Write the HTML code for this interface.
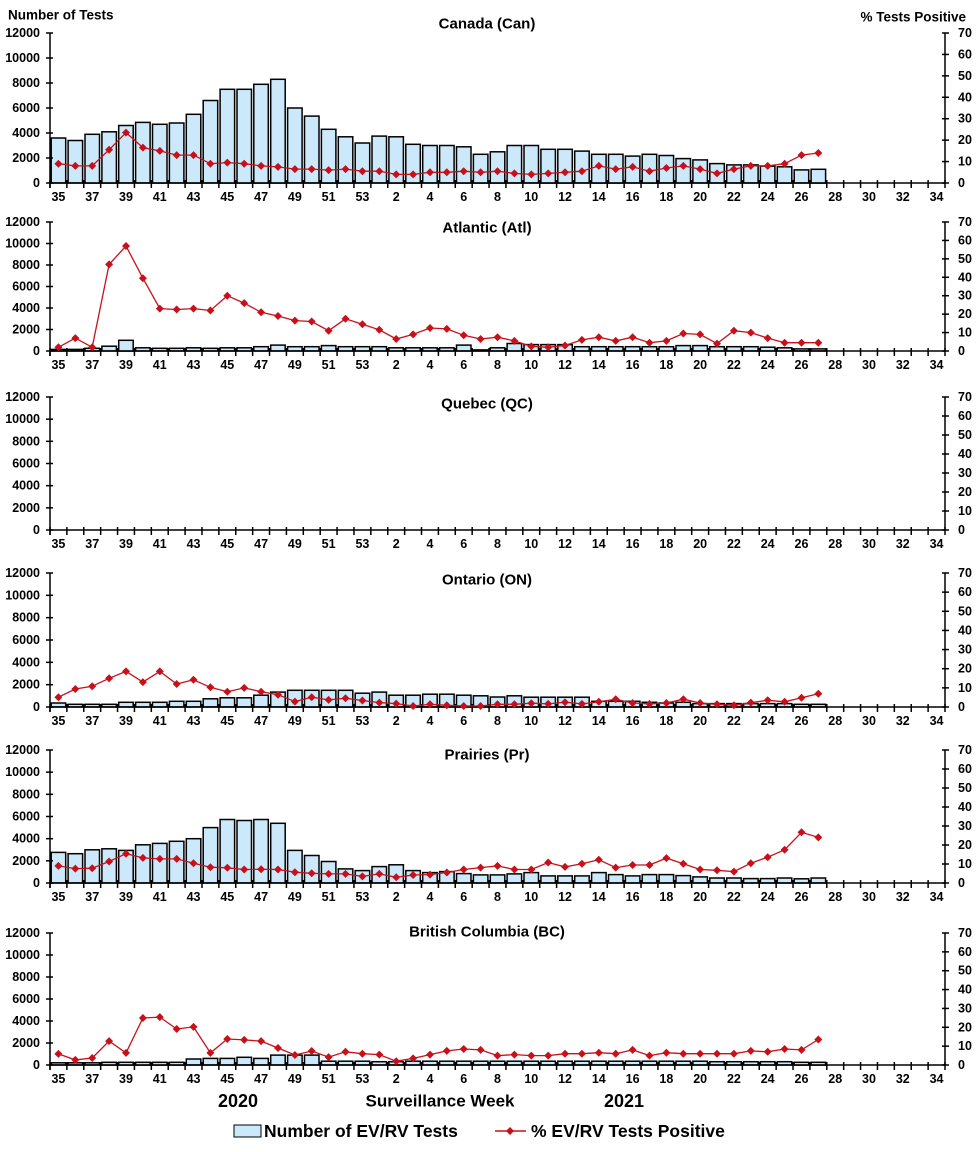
<!DOCTYPE html>
<html><head><meta charset="utf-8">
<style>
html,body{margin:0;padding:0;background:#fff;}
svg{display:block;font-family:"Liberation Sans",Arial,sans-serif;font-weight:bold;}
</style></head>
<body>
<svg id="c" width="976" height="1152" xmlns="http://www.w3.org/2000/svg"></svg>
<script>
const weeks=[];for(let w=35;w<=53;w++)weeks.push(w);for(let w=1;w<=34;w++)weeks.push(w);
const X0=50,X1=945,CW=(X1-X0)/53;
const P=[
{t:"Canada (Can)",ty:24,top:33,bot:183,
b:[3600,3400,3900,4100,4600,4850,4700,4800,5500,6600,7500,7500,7900,8300,6000,5350,4300,3700,3200,3750,3700,3100,3000,3000,2900,2300,2500,3000,3000,2700,2700,2550,2300,2300,2150,2300,2200,1950,1850,1550,1450,1450,1350,1300,1050,1100],
p:[9,8,8,15.5,23.5,16.5,15,13,13,9,9.5,9,8,7.5,6.5,6.5,6,6.5,5.5,5.5,4,4,5,5,5.5,5,5.5,4.5,4,4.5,5,5.5,8,6.5,7.5,5.5,7,8,6.5,4.5,6.5,8,8,9,13,14]},
{t:"Atlantic (Atl)",ty:228,top:222,bot:351,
b:[150,150,250,450,1000,300,250,250,300,250,300,300,400,550,400,400,500,400,400,400,300,300,300,300,550,100,300,700,600,600,600,400,400,400,400,400,400,500,500,400,400,400,350,300,200,200],
p:[2,7,2,47,57,39.5,23,22.5,23,22,30,26,21,19,16.5,16,11,17.5,14.5,11.5,6.5,9,12.5,12,8.5,6.5,7.5,5.5,2.5,2,3,6,7.5,5.5,7.5,4.5,5.5,9.5,9,4,11,10,7,4.5,4.5,4.5]},
{t:"Quebec (QC)",ty:404,top:397,bot:530,b:[],p:[]},
{t:"Ontario (ON)",ty:580,top:573,bot:707,
b:[360,240,240,240,420,420,420,510,510,730,820,820,1060,1330,1500,1500,1500,1500,1240,1330,1060,1060,1150,1150,1060,1000,900,1000,880,880,880,880,510,510,510,420,360,420,300,300,300,300,300,300,240,240],
p:[5.1,9.4,10.8,15,18.6,13,18.6,12,14.2,10.3,8,10,8,6.4,2.8,5.1,3.7,4.6,3.4,2.3,1.8,0.5,1.4,0.9,0.5,0.5,1.4,1.4,2,1.6,2.5,1.6,2.7,4,2.1,1.6,2.1,4.1,2.1,1.4,0.9,2.3,3.5,2.7,4.8,6.9]},
{t:"Prairies (Pr)",ty:755,top:750,bot:883,
b:[2760,2640,3000,3090,2940,3450,3575,3760,4000,5000,5730,5640,5730,5390,2940,2480,1940,1270,1120,1480,1640,1120,940,1030,850,730,730,820,940,640,640,640,940,760,640,760,760,670,550,450,450,400,400,450,380,450],
p:[9,7.6,7.8,11.3,15.4,13.2,12.7,12.7,10.4,8.3,8,7.1,7.2,7.1,5.7,5.1,4.8,4.8,3.5,4.8,3,4.2,4.4,5.5,7.1,8.1,9,7.1,7.1,10.8,8.5,10.1,12.2,8.1,9.5,9.5,13.1,10.1,7.1,6.7,6,10.4,13.6,17.5,26.7,24]},
{t:"British Columbia (BC)",ty:932,top:933,bot:1065,
b:[200,200,200,250,250,250,250,250,550,600,600,700,600,900,900,900,350,350,350,300,300,350,350,350,350,350,350,350,350,350,350,350,350,350,350,350,350,350,350,300,300,300,300,300,250,250],
p:[5.9,2.7,3.7,12.7,6.4,24.9,25.4,19.1,20.2,6.4,13.8,13.3,12.7,9,5.3,7.4,4.2,7,6,5.5,2,3.5,5.5,7.5,8.5,8,5,5.5,5,5,6,6,6.5,6,8,5,6.5,6,6,6,6,7.5,7,8.5,8,13.5]}
];
let s='';
const L=(x1,y1,x2,y2,w,c)=>`<line x1="${x1}" y1="${y1}" x2="${x2}" y2="${y2}" stroke="${c||'#000'}" stroke-width="${w||1}"/>`;
const T=(x,y,t,sz,a)=>`<text x="${x}" y="${y}" font-size="${sz}" text-anchor="${a||'middle'}" dominant-baseline="central">${t}</text>`;
P.forEach(p=>{
 const H=p.bot-p.top;
 const yb=v=>p.bot-v/12000*H, yp=v=>p.bot-v/70*H;
 // bars
 p.b.forEach((v,i)=>{const x=X0+i*CW+1.2;const y=yb(v);
  s+=`<rect x="${x.toFixed(1)}" y="${y.toFixed(1)}" width="${(CW-2.4).toFixed(1)}" height="${(p.bot-y).toFixed(1)}" fill="#cce9fb" stroke="#000" stroke-width="1.5"/>`;});
 // axes
 s+=L(X0,p.top,X0,p.bot+5,1.5);s+=L(X1,p.top,X1,p.bot,1.5);s+=L(X0,p.bot,X1,p.bot,1.5);
 for(let k=0;k<=6;k++){const y=p.bot-k*H/6;s+=L(X0-4,y,X0+3,y,1.5);s+=T(X0-10,y,k*2000,12.5,'end');}
 for(let k=0;k<=7;k++){const y=p.bot-k*H/7;s+=L(X1-3,y,X1+4,y,1.5);s+=T(X1+13,y,k*10,12.5,'start');}
 for(let i=0;i<=53;i++){const x=X0+i*CW;s+=L(x,p.bot-3,x,p.bot+5,1.5);}
 for(let i=0;i<53;i+=2){s+=T(X0+(i+0.5)*CW,p.bot+14,weeks[i],12.5);}
 s+=T(487,p.ty,p.t,15);
 // line
 if(p.p.length){const pts=p.p.map((v,i)=>[(X0+(i+0.5)*CW).toFixed(1),yp(v).toFixed(1)]);
  s+=`<polyline points="${pts.map(a=>a.join(',')).join(' ')}" fill="none" stroke="#c8101a" stroke-width="1.3"/>`;
  pts.forEach(([x,y])=>{s+=`<polygon points="${x},${y-4} ${+x+4},${y} ${x},${+y+4} ${x-4},${y}" fill="#c8101a"/>`;});}
});
s+=`<text x="8" y="15" font-size="13.5" dominant-baseline="central">Number of Tests</text>`;
s+=`<text x="966" y="17" font-size="13.5" text-anchor="end" dominant-baseline="central">%  Tests Positive</text>`;
s+=T(238,1101,"2020",18);s+=T(440,1101,"Surveillance Week",17);s+=T(624,1101,"2021",18);
s+=`<rect x="234" y="1125" width="27" height="12" fill="#cce9fb" stroke="#000" stroke-width="1"/>`;
s+=`<text x="264" y="1131" font-size="17.5" dominant-baseline="central">Number of EV/RV Tests</text>`;
s+=L(495,1131,526,1131,1.5,'#c8101a');
s+=`<polygon points="510,1127 514,1131 510,1135 506,1131" fill="#c8101a"/>`;
s+=`<text x="531" y="1131" font-size="17.5" dominant-baseline="central">% EV/RV Tests Positive</text>`;
document.getElementById('c').innerHTML=s;
</script>
</body></html>
